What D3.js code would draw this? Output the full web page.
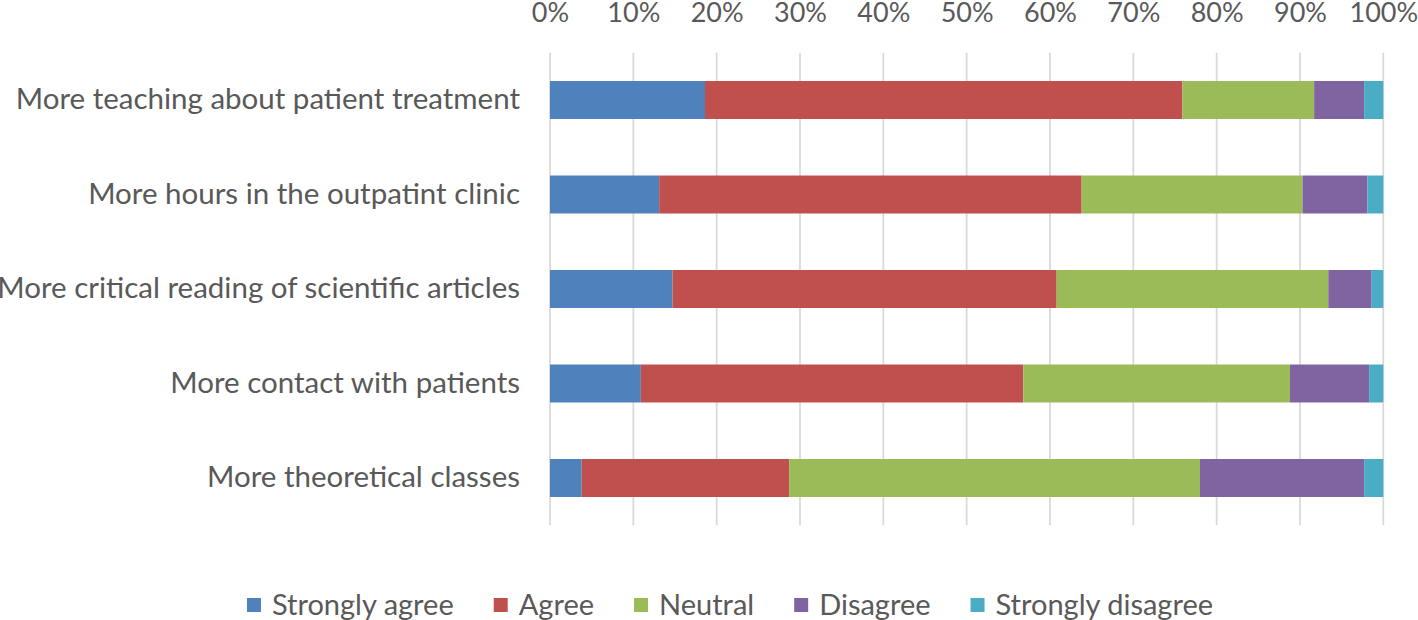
<!DOCTYPE html>
<html>
<head>
<meta charset="utf-8">
<script src="https://cdn.jsdelivr.net/npm/d3@7"></script>
<style>
  html, body { margin: 0; padding: 0; background: #fff; }
  svg { display: block; }
  text { font-family: Lato, "Open Sans", sans-serif; fill: #595959; }
</style>
</head>
<body>
<svg id="chart" width="1418" height="620"></svg>
<script>
const categories = [
  "More teaching about patient treatment",
  "More hours in the outpatint clinic",
  "More critical reading of scientific articles",
  "More contact with patients",
  "More theoretical classes"
];
const seriesNames = ["Strongly agree", "Agree", "Neutral", "Disagree", "Strongly disagree"];
const stronglyAgree    = [18.6, 13.1, 14.7, 10.9, 3.8];
const agree            = [57.3, 50.7, 46.1, 45.9, 24.9];
const neutral          = [15.8, 26.5, 32.6, 32.0, 49.3];
const disagree         = [6.0, 7.8, 5.2, 9.5, 19.7];
const stronglyDisagree = [2.3, 1.9, 1.4, 1.7, 2.3];
const tickValues = [0, 10, 20, 30, 40, 50, 60, 70, 80, 90, 100];
const colors = ["#4f81bd", "#c0504d", "#9bbb59", "#8064a2", "#4bacc6"];

const seriesValues = [stronglyAgree, agree, neutral, disagree, stronglyDisagree];
const rows = categories.map((c, i) => {
  const r = { category: c };
  seriesNames.forEach((s, j) => r[s] = seriesValues[j][i]);
  return r;
});

const svg = d3.select("#chart");
const x = d3.scaleLinear().domain([0, 100]).range([550, 1383.3]);
const y = d3.scaleBand().domain(categories).range([52.75, 525.25])
  .paddingInner(0.598).paddingOuter(0.299);

// gridlines
svg.append("g").selectAll("line").data(tickValues).join("line")
  .attr("x1", d => x(d)).attr("x2", d => x(d))
  .attr("y1", 52.75).attr("y2", 525.25)
  .attr("stroke", "#d9d9d9").attr("stroke-width", 1.75);

// top axis labels
const xAxis = d3.axisTop(x).tickValues(tickValues).tickFormat(d => d + "%").tickSize(0).tickPadding(0);
const gx = svg.append("g").attr("transform", "translate(0,22)").call(xAxis);
gx.select(".domain").remove();
gx.selectAll("text").attr("font-size", 27).attr("fill", "#595959")
  .style("font-family", "Lato, 'Open Sans', sans-serif").attr("dy", 0);

// stacked bars
const stack = d3.stack().keys(seriesNames)(rows);
svg.append("g").selectAll("g").data(stack).join("g")
  .attr("fill", (d, i) => colors[i])
  .selectAll("rect").data(d => d).join("rect")
  .attr("x", d => x(d[0]))
  .attr("width", d => x(d[1]) - x(d[0]))
  .attr("y", d => y(d.data.category))
  .attr("height", y.bandwidth());

// category labels
const yAxis = d3.axisLeft(y).tickSize(0).tickPadding(30);
const gy = svg.append("g").attr("transform", "translate(550,0)").call(yAxis);
gy.select(".domain").remove();
gy.selectAll("text").attr("font-size", 29.5).attr("fill", "#595959")
  .style("font-family", "Lato, 'Open Sans', sans-serif");

// legend
const legend = svg.append("g");
const items = legend.selectAll("g").data(seriesNames).join("g");
items.append("rect").attr("width", 14).attr("height", 14).attr("y", -7)
  .attr("fill", (d, i) => colors[i]);
items.append("text").attr("x", 25).attr("dy", "0.35em").attr("font-size", 29).text(d => d);
let cx = 0;
const widths = [];
items.each(function() {
  const w = 25 + this.querySelector("text").getComputedTextLength();
  widths.push(w);
});
items.attr("transform", (d, i) => {
  const t = `translate(${cx},0)`;
  cx += widths[i] + 40;
  return t;
});
const totalW = cx - 40;
legend.attr("transform", `translate(${730 - totalW / 2},605)`);
</script>
</body>
</html>
